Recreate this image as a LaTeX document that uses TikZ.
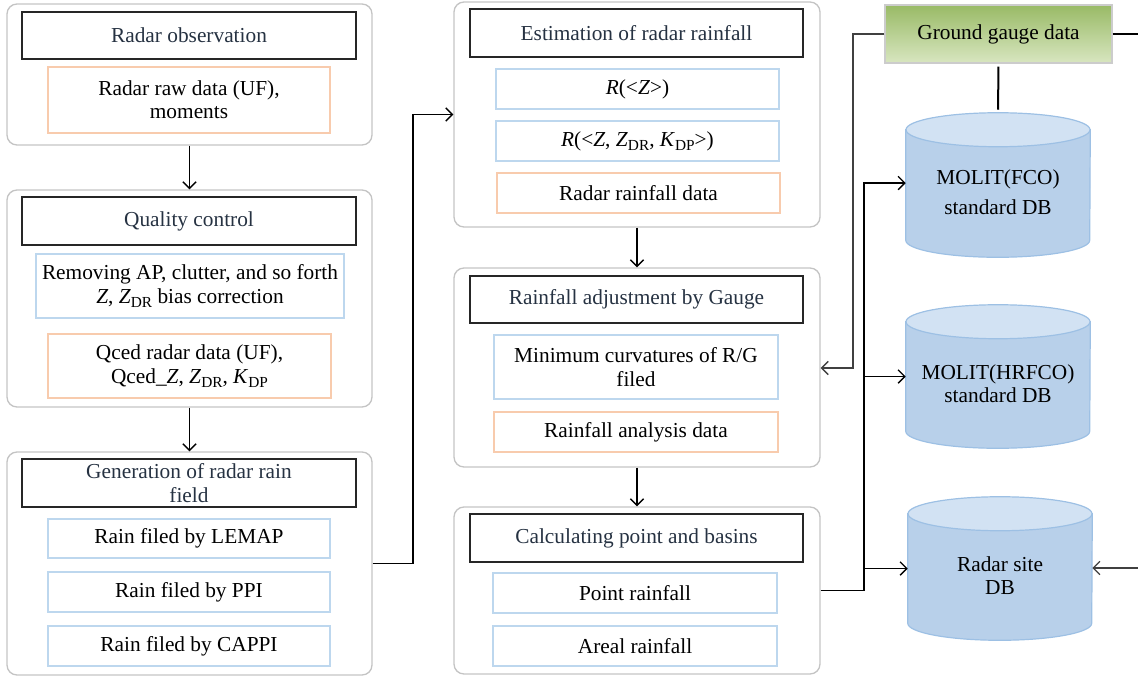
\documentclass[tikz,border=0pt]{standalone}
\usepackage{fontspec}
\setmainfont{Liberation Serif}
\usetikzlibrary{arrows.meta,fit,calc}
\definecolor{grpline}{RGB}{196,196,196}
\definecolor{hdrtext}{RGB}{38,50,66}
\definecolor{bluebd}{RGB}{189,215,238}
\definecolor{orangebd}{RGB}{248,203,173}
\definecolor{cylbody}{RGB}{184,208,234}
\definecolor{cyltop}{RGB}{210,226,243}
\definecolor{cylbd}{RGB}{157,192,228}
\definecolor{gtop}{RGB}{153,186,102}
\definecolor{gbot}{RGB}{216,230,192}
\newcommand\lowsub[1]{\raisebox{-0.4ex}{\fontsize{11.5}{11.5}\selectfont #1}}
% box: style, name, corner, corner, text style, text
\newcommand\bx[6]{\node[#1, fit={(#3) (#4)}] (#2) {};
  \node[#5] (#2-t) at (#2.center) {#6};}
\newcommand\cylshape[1]{%
  \path[fill=cylbody, draw=cylbd, line width=0.9pt]
    ([yshift=-12.75pt]#1.north west) -- ([yshift=12.75pt]#1.south west)
    arc[start angle=180, end angle=360, x radius=69pt, y radius=12.75pt]
    -- ([yshift=-12.75pt]#1.north east) -- cycle;
  \draw[fill=cyltop, draw=cylbd, line width=0.9pt]
    ([yshift=-12.75pt]#1.north) ellipse [x radius=69pt, y radius=12.75pt];}
\begin{document}
\begin{tikzpicture}[x=0.75pt,y=-0.75pt,
  every node/.style={inner sep=0pt, font=\fontsize{16}{17.5}\selectfont, align=center},
  grp/.style={draw=grpline, line width=1pt, rounded corners=7.5pt},
  hdr/.style={draw=black!85, line width=1pt},
  htxt/.style={text=hdrtext},
  btxt/.style={text=black},
  bbox/.style={draw=bluebd, line width=1pt},
  obox/.style={draw=orangebd, line width=1pt},
  cylnode/.style={},
  gauge/.style={draw=black!20, line width=1pt, top color=gtop, bottom color=gbot},
  conn/.style={line width=1pt, -{Straight Barb[length=5pt,width=10pt]}},
  plain/.style={line width=1pt}]
\useasboundingbox (0,0) rectangle (1138,676);

% left column
\bx{grp}{g1}{7,4}{372,145}{}{}
\bx{hdr}{h1}{22,12}{356,59}{htxt}{Radar observation}
\bx{obox}{o1}{48,67}{330,133}{btxt}{Radar raw data (UF),\\ moments}

\bx{grp}{g2}{7,190}{372,407}{}{}
\bx{hdr}{h2}{22,197}{356,245}{htxt}{Quality control}
\bx{bbox}{b2}{36,254}{344,318}{btxt}{Removing AP, clutter, and so forth\\ \textit{Z}, \textit{Z}\lowsub{DR} bias correction}
\bx{obox}{o2}{48,334}{331,398}{btxt}{Qced radar data (UF),\\ Qced\_\textit{Z}, \textit{Z}\lowsub{DR}, \textit{K}\lowsub{DP}}

\bx{grp}{g3}{7,452}{372,675}{}{}
\bx{hdr}{h3}{22,459}{356,507}{htxt}{Generation of radar rain\\ field}
\bx{bbox}{b3a}{48,519}{330,558}{btxt}{Rain filed by LEMAP}
\bx{bbox}{b3b}{48,572}{330,612}{btxt}{Rain filed by PPI}
\bx{bbox}{b3c}{48,626}{330,666}{btxt}{Rain filed by CAPPI}

% middle column
\bx{grp}{g4}{454,2}{820,227}{}{}
\bx{hdr}{h4}{470,9}{803,57}{htxt}{Estimation of radar rainfall}
\bx{bbox}{b4a}{496,69}{779,109}{btxt}{\textit{R}(<\textit{Z}>)}
\bx{bbox}{b4b}{496,121}{779,161}{btxt}{\textit{R}(<\textit{Z}, \textit{Z}\lowsub{DR}, \textit{K}\lowsub{DP}>)}
\bx{obox}{o4}{497,173}{780,213}{btxt}{Radar rainfall data}

\bx{grp}{g5}{454,268}{820,467}{}{}
\bx{hdr}{h5}{470,276}{803,323}{htxt}{Rainfall adjustment by Gauge}
\bx{bbox}{b5}{494,335}{778,399}{btxt}{Minimum curvatures of R/G\\ filed}
\bx{obox}{o5}{494,412}{778,452}{btxt}{Rainfall analysis data}

\bx{grp}{g6}{454,507}{820,674}{}{}
\bx{hdr}{h6}{470,514}{803,562}{htxt}{Calculating point and basins}
\bx{bbox}{b6a}{493,573}{777,613}{btxt}{Point rainfall}
\bx{bbox}{b6b}{493,626}{777,666}{btxt}{Areal rainfall}

% right column
\bx{gauge}{gg}{885,5}{1112,63}{btxt}{Ground gauge data}
\node[cylnode, fit={(906,113) (1090,257)}] (fco) {};
\node[cylnode, fit={(906,305) (1090,448)}] (hr) {};
\node[cylnode, fit={(908,497) (1092,640)}] (rs) {};
\cylshape{fco}
\cylshape{hr}
\cylshape{rs}
\node (fcot) at ($(fco.center)+(0,7)$) {MOLIT(FCO)\\[5pt] standard DB};
\node (hrt) at ($(hr.center)+(0,7)$) {MOLIT(HRFCO)\\ standard DB};
\node (rst) at ($(rs.center)+(0,7)$) {Radar site\\ DB};

% connectors
\draw[conn] (g1.south) -- (g2.north);
\draw[conn] (g2.south) -- (g3.north);
\draw[conn] (g4.south) -- (g5.north);
\draw[conn] (g5.south) -- (g6.north);
\draw[conn] (g3.east) -| ($(g3.east)!0.5!(g4.west)$) |- (g4.west);

\coordinate (bus) at (864,183);
\draw[conn] (g6.east) -| (bus) -- (fco.west |- bus);
\draw[conn] (bus |- hr.west) -- (hr.west);
\draw[conn] (bus |- rs.west) -- (rs.west);

\coordinate (gl) at (853,368);
\draw[conn, draw=black!75] (gg.west) -| (gl) -- (g5.east |- gl);
\coordinate (ggr) at (1138,34);
\draw[plain] (gg.east) -- (ggr);
\draw[line width=1.5pt, shorten <=2.25pt, shorten >=2.25pt] (gg.south) -- (fco.north);
\coordinate (rsin) at (1138,568);
\draw[conn, draw=black!75] (rsin) -- (rs.east |- rsin);
\end{tikzpicture}
\end{document}
